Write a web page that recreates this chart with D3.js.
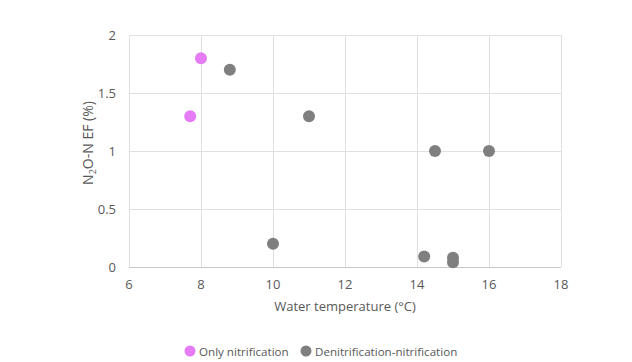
<!DOCTYPE html>
<html><head><meta charset="utf-8">
<script src="https://cdn.jsdelivr.net/npm/d3@7"></script>
<style>body{margin:0;background:#fff;}svg{display:block;font-family:"Open Sans",sans-serif;}</style>
</head><body>
<svg id="c" width="632" height="362"></svg>
<script>
const xTicks = [6, 8, 10, 12, 14, 16, 18];
const yTicks = [0, 0.5, 1, 1.5, 2];
const yTickLabels = ["0", "0.5", "1", "1.5", "2"];
const seriesNames = ["Only nitrification", "Denitrification-nitrification"];
const onlyNitrification = [[8.0, 1.8], [7.7, 1.3]];
const denitNitrification = [[8.8, 1.7], [11.0, 1.3], [10.0, 0.2], [14.5, 1.0], [16.0, 1.0], [14.2, 0.09], [15.0, 0.08], [15.0, 0.04]];
const colors = ["#e57cf5", "#7f7f7f"];

const svg = d3.select("#c");
const x = d3.scaleLinear().domain([6, 18]).range([129, 561]);
const y = d3.scaleLinear().domain([0, 2]).range([267, 35]);

// grid
svg.append("g").selectAll("line").data(xTicks).join("line")
  .attr("x1", d => x(d)).attr("x2", d => x(d)).attr("y1", y(0)).attr("y2", y(2))
  .attr("stroke", "#e0e0e0").attr("stroke-width", 1).attr("shape-rendering","crispEdges");
svg.append("g").selectAll("line").data(yTicks).join("line")
  .attr("x1", x(6)).attr("x2", x(18)).attr("y1", d => y(d)).attr("y2", d => y(d))
  .attr("stroke", d => d === 0 ? "#c8c8c8" : "#e0e0e0").attr("stroke-width", 1).attr("shape-rendering","crispEdges");

// tick labels
svg.append("g").selectAll("text").data(xTicks).join("text")
  .attr("x", d => x(d)).attr("y", 289).attr("text-anchor", "middle")
  .attr("font-size", 13).attr("fill", "#595959").text(d => d);
svg.append("g").selectAll("text").data(yTicks).join("text")
  .attr("x", 116).attr("y", d => y(d) + 4.5).attr("text-anchor", "end")
  .attr("font-size", 13).attr("fill", "#595959").text((d, i) => yTickLabels[i]);

// axis titles
svg.append("text").attr("x", 345).attr("y", 311).attr("text-anchor", "middle")
  .attr("font-size", 13).attr("fill", "#595959").text("Water temperature (°C)");
const yt = svg.append("text").attr("transform", "translate(93,143) rotate(-90)")
  .attr("text-anchor", "middle").attr("font-size", 14).attr("fill", "#595959");
yt.append("tspan").text("N");
yt.append("tspan").attr("font-size", 9).attr("dy", 3).text("2");
yt.append("tspan").attr("dy", -3).text("O-N EF (%)");

// points
svg.append("g").selectAll("circle").data(denitNitrification).join("circle")
  .attr("cx", d => x(d[0])).attr("cy", d => y(d[1])).attr("r", 6).attr("fill", colors[1]);
svg.append("g").selectAll("circle").data(onlyNitrification).join("circle")
  .attr("cx", d => x(d[0])).attr("cy", d => y(d[1])).attr("r", 6).attr("fill", colors[0]);

// legend
const lg = [{x: 190, name: seriesNames[0], c: colors[0]}, {x: 306, name: seriesNames[1], c: colors[1]}];
const g = svg.append("g").selectAll("g").data(lg).join("g");
g.append("circle").attr("cx", d => d.x).attr("cy", 351).attr("r", 5.5).attr("fill", d => d.c);
g.append("text").attr("x", d => d.x + 9).attr("y", 355.5).attr("font-size", 11.6).attr("fill", "#595959").text(d => d.name);
</script>
</body></html>
